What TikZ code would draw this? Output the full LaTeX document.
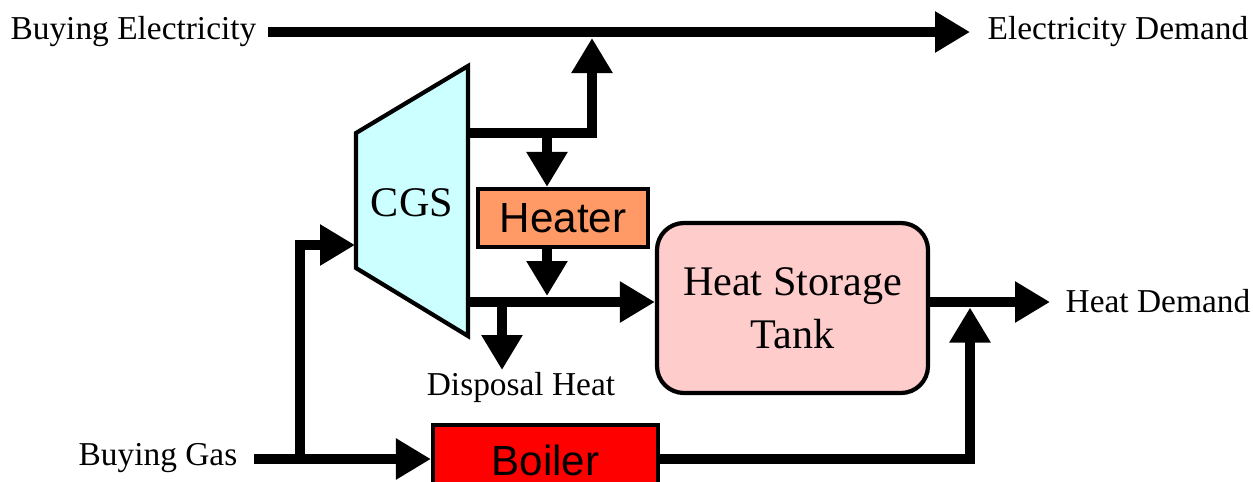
\documentclass[tikz,border=0pt]{standalone}
\usepackage{fontspec}
\setmainfont{Liberation Serif}
\newfontfamily\gothic{Liberation Sans}
\usetikzlibrary{arrows.meta, positioning, calc}
\definecolor{cgscol}{HTML}{CCFFFF}
\definecolor{heatercol}{HTML}{FF9966}
\definecolor{tankcol}{HTML}{FFCCCC}
\definecolor{boilercol}{HTML}{FF0000}

\begin{document}
\begin{tikzpicture}[>={Triangle[length=3.5mm, width=3.9mm]},
    flow/.style={line width=3.1pt, ->},
    pipe/.style={line width=3.1pt},
    unit/.style={draw, line width=1.2pt, inner sep=0pt},
    lbl/.style={inner sep=0pt, font=\fontsize{9.5}{11}\selectfont},
    big/.style={font=\fontsize{12}{15}\selectfont}]
\clip (0,0) rectangle (12.53,4.81);
% text at the four ends
\node[lbl, anchor=east] (elecbuy) at (2.57,4.49) {Buying Electricity};
\node[lbl, anchor=west] (elecdem) at (9.87,4.49) {Electricity Demand};
\node[lbl, anchor=west] (heatdem) at (10.65,1.80) {Heat Demand};
\node[lbl, anchor=east] (gasbuy) at (2.38,0.23) {Buying Gas};
\node[lbl] (disposal) at (5.21,0.94) {Disposal Heat};
% the CGS unit
\draw[line width=1.2pt, fill=cgscol] (3.56,3.48) -- (4.68,4.15) -- (4.68,1.45) -- (3.56,2.13) -- cycle;
\node[big] (cgs) at (4.12,2.78) {CGS};
\coordinate (cgsel) at (4.68,3.48);
\coordinate (cgsht) at (4.68,1.79);
\coordinate (cgsin) at (3.55,2.36);
% the other units
\node[unit, fill=heatercol, minimum width=1.70cm, minimum height=0.58cm, font=\gothic\fontsize{12}{14}\selectfont] (heater) at (5.63,2.63) {Heater};
\node[unit, fill=tankcol, rounded corners=0.27cm, minimum width=2.71cm, minimum height=1.70cm, align=center, big] (tank) at (7.925,1.73) {Heat Storage\\Tank};
\node[unit, fill=boilercol, minimum width=2.25cm, minimum height=0.70cm, font=\gothic\fontsize{12}{14}\selectfont] (boiler) at (5.455,0.21) {Boiler};
% junctions on the lines
\coordinate (ej) at (5.92,4.48);
\coordinate (hb) at (5.47,3.48);
\coordinate (hj) at (9.70,1.79);
\coordinate (dj) at (5.02,1.79);
\coordinate (dtip) at (5.02,1.11);
\coordinate (gj) at (3.00,0.22);
% electricity
\draw[flow] ([xshift=1.1mm]elecbuy.east) -- ([xshift=-1.7mm]elecdem.west);
\draw[flow] (cgsel) -| ([yshift=-0.5mm]ej);
% heat
\draw[flow] (hb) -- (hb |- heater.north);
\draw[flow] ([xshift=-1.6mm]heater.south) -- ([xshift=-1.6mm, yshift=0.6mm]heater.south |- cgsht);
\draw[flow] (cgsht) -- (tank.west |- cgsht);
\draw[flow] (dj) -- (dtip);
\draw[flow] (tank.east |- hj) -- ([xshift=-1.5mm]heatdem.west |- hj);
\draw[flow] (boiler.east |- gj) -| ([yshift=-0.55mm]hj);
% gas
\draw[flow] ([xshift=1.6mm]gasbuy.east |- gj) -- (boiler.west |- gj);
\draw[flow] (gj) |- (cgsin);
\end{tikzpicture}
\end{document}
